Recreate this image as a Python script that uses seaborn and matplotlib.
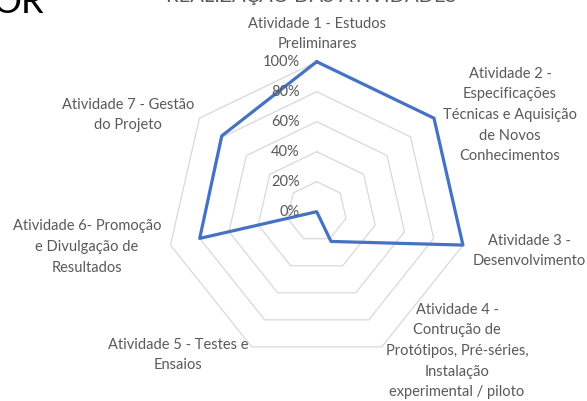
import numpy as np
import pandas as pd
import matplotlib.pyplot as plt
import seaborn as sns

# dados
categories = ['Atividade 1 - Estudos\nPreliminares',
              'Atividade 2 -\nEspecificações\nTécnicas e Aquisição\nde Novos\nConhecimentos',
              'Atividade 3 -\nDesenvolvimento',
              'Atividade 4 -\nContrução de\nProtótipos, Pré-séries,\nInstalação\nexperimental / piloto',
              'Atividade 5 - Testes e\nEnsaios',
              'Atividade 6- Promoção\ne Divulgação de\nResultados',
              'Atividade 7 - Gestão\ndo Projeto']
values = [1.00, 1.00, 1.00, 0.22, 0.00, 0.80, 0.81]
ticks = [0.0, 0.2, 0.4, 0.6, 0.8, 1.0]
tick_labels = ['0%', '20%', '40%', '60%', '80%', '100%']
title = 'REALIZAÇÃO DAS ATIVIDADES'

sns.set_theme(style='white')
plt.rcParams['font.family'] = ['Lato', 'DejaVu Sans']

grey = '#595959'
W, H = 587, 401
cx, cy, R = 316.7, 211.7, 150.0  # centro e raio em pixels

fig = plt.figure(figsize=(W / 100, H / 100), dpi=100)
ax = fig.add_axes([0, 0, 1, 1])
ax.set_xlim(-cx / R, (W - cx) / R)
ax.set_ylim(-(H - cy) / R, cy / R)
ax.set_aspect('equal')
ax.axis('off')

n = len(categories)
ang = np.arange(n + 1) * 2 * np.pi / n

# grelha (heptágonos)
for t in ticks[1:]:
    ring = pd.DataFrame({'x': t * np.sin(ang), 'y': t * np.cos(ang)})
    sns.lineplot(data=ring, x='x', y='y', sort=False, estimator=None,
                 color='#d9d9d9', lw=0.9, ax=ax)

# série
vals = np.array(values + values[:1])
df = pd.DataFrame({'x': vals * np.sin(ang), 'y': vals * np.cos(ang)})
sns.lineplot(data=df, x='x', y='y', sort=False, estimator=None,
             color='#4472c4', lw=2.3, ax=ax)

# rótulos do eixo de valores
for t, lab in zip(ticks, tick_labels):
    ax.text(-17 / R, t, lab, ha='right', va='center', color=grey, fontsize=10.5)

# rótulos das categorias (posições em pixels)
label_pos = [(317, 34), (510, 115), (529, 251), (457, 351),
             (178, 355), (87, 247), (128, 115)]
for lab, (px, py) in zip(categories, label_pos):
    ax.text((px - cx) / R, (cy - py) / R, lab, ha='center', va='center',
            multialignment='center', color=grey, fontsize=10.5, linespacing=1.6)

# título (cortado no topo, como no original)
fig.text(311 / W, 1 - 2 / H, title, ha='center', va='baseline',
         fontsize=14.5, color=grey)
fig.text(-8 / W, 1 - 13 / H, 'OR', ha='left', va='baseline', fontsize=26, color='black')

fig.savefig('out.png', dpi=100)
